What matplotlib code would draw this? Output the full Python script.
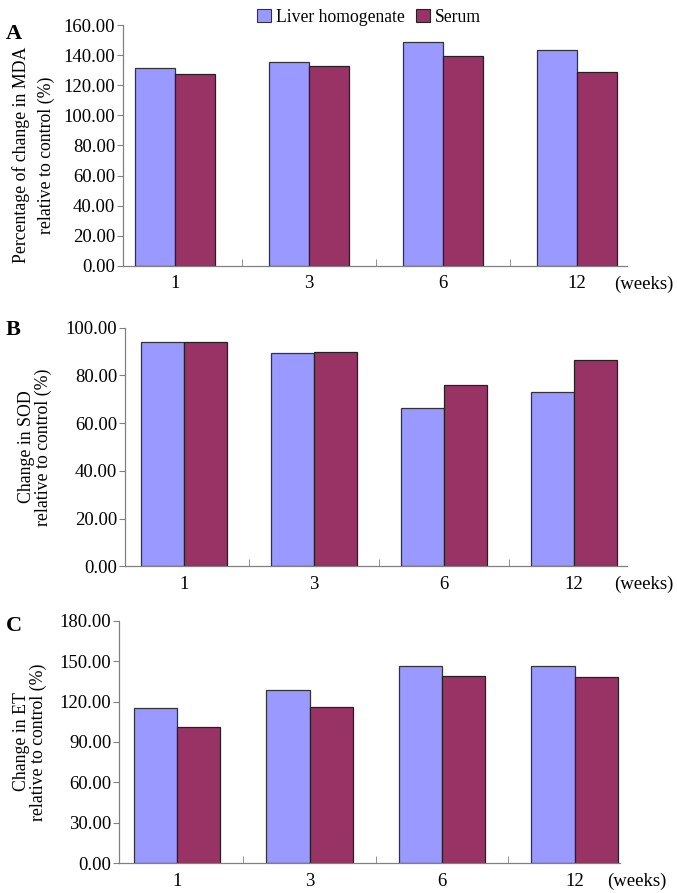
import numpy as np
import matplotlib.pyplot as plt
from matplotlib.patches import Patch

# data
weeks = ['1', '3', '6', '12']
series = ['Liver homogenate', 'Serum']

mda_liver = [131.4, 135.8, 148.7, 143.8]
mda_serum = [127.4, 133.1, 139.8, 128.7]

sod_liver = [94.0, 89.3, 66.2, 73.0]
sod_serum = [94.0, 89.9, 76.1, 86.5]

et_liver = [115.0, 128.8, 146.6, 146.6]
et_serum = [100.9, 115.7, 139.2, 138.4]

c_liver = '#9999FF'
c_serum = '#993366'
axis_gray = '#808080'
FS = 13.5

plt.rcParams['font.family'] = ['Liberation Serif', 'DejaVu Serif']


def panel(fig, rect, liver, serum, ymax, ystep, ylabel, xlim, width, lab_xy, lab_ls):
    ax = fig.add_axes(rect)
    x = np.arange(len(weeks))
    ax.bar(x - width/2, liver, width, color=c_liver, edgecolor='#333333', linewidth=0.9)
    ax.bar(x + width/2, serum, width, color=c_serum, edgecolor='#222222', linewidth=0.9)
    ax.set_xlim(*xlim)
    ax.set_ylim(0, ymax)
    ticks = np.arange(0, ymax + 0.1, ystep)
    ax.set_yticks(ticks)
    ax.set_yticklabels(['%.2f' % v for v in ticks])
    ax.set_xticks(x)
    ax.set_xticklabels(weeks)
    ax.set_xticks([0.5, 1.5, 2.5], minor=True)
    ax.tick_params(axis='x', which='major', length=0, pad=7, labelsize=FS)
    ax.tick_params(axis='x', which='minor', length=5, direction='in', color=axis_gray)
    ax.tick_params(axis='y', length=4, width=0.8, color=axis_gray, pad=1.5, labelsize=FS)
    for s in ['top', 'right']:
        ax.spines[s].set_visible(False)
    for s in ['left', 'bottom']:
        ax.spines[s].set_color(axis_gray)
        ax.spines[s].set_linewidth(0.9)
    ax.set_ylabel(ylabel, fontsize=12.8, linespacing=lab_ls, va='center')
    ax.yaxis.set_label_coords(*lab_xy)
    ax.annotate('(weeks)', xy=(1, 0), xycoords='axes fraction', xytext=(-9, -7),
                textcoords='offset points', ha='left', va='top', fontsize=FS)
    return ax


fig = plt.figure(figsize=(6.77, 8.93), dpi=100)

panel(fig, [0.1817, 0.7025, 0.7445, 0.2692], mda_liver, mda_serum, 160, 20,
      'Percentage of change in MDA\nrelative to control (%)', (-0.388, 3.373), 0.30,
      (-0.178, 0.46), 1.6)
panel(fig, [0.1846, 0.3658, 0.7415, 0.2672], sod_liver, sod_serum, 100, 20,
      'Change in SOD\nrelative to control (%)', (-0.456, 3.408), 0.33,
      (-0.1796, 0.5), 1.0)
panel(fig, [0.1758, 0.0333, 0.7400, 0.2717], et_liver, et_serum, 180, 30,
      'Change in ET\nrelative to control (%)', (-0.438, 3.343), 0.325,
      (-0.1776, 0.5), 1.0)

for letter, ytop in [('A', 24), ('B', 320), ('C', 616)]:
    fig.text(6 / 677, 1 - ytop / 893, letter, fontsize=16, fontweight='bold',
             ha='left', va='top')

handles = [Patch(facecolor=c_liver, edgecolor='#333333', linewidth=0.8),
           Patch(facecolor=c_serum, edgecolor='#222222', linewidth=0.8)]
fig.legend(handles, series, loc='upper center', bbox_to_anchor=(0.545, 1.008), ncol=2,
           frameon=False, fontsize=12.7, handlelength=0.8, handleheight=0.8,
           handletextpad=0.3, columnspacing=0.6)

fig.savefig('out.png', dpi=100)
